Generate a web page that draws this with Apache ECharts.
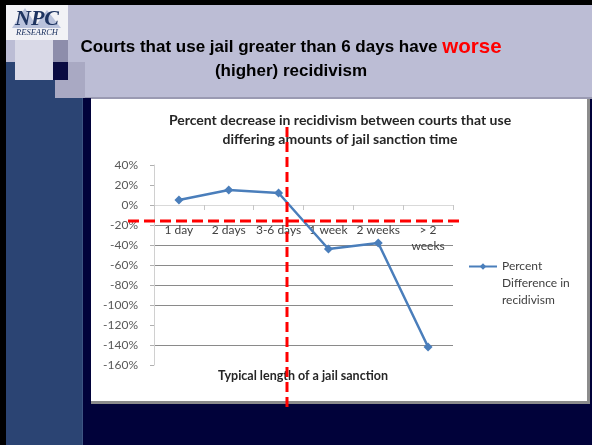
<!DOCTYPE html>
<html>
<head>
<meta charset="utf-8">
<script src="https://cdn.jsdelivr.net/npm/echarts@6/dist/echarts.min.js"></script>
<style>
html,body{margin:0;padding:0;background:#01023a;}
#c{width:592px;height:445px;}
</style>
</head>
<body>
<div id="c"></div>
<script>
// ---- data ----
const categories = ['1 day', '2 days', '3-6 days', '1 week', '2 weeks', '> 2 weeks'];
const percentDifference = [5, 15, 12, -44, -38, -142];
const seriesName = 'Percent Difference in recidivism';
const yMin = -160, yMax = 40, yStep = 20;
const slideTitleLine1 = 'Courts that use jail greater than 6 days have ';
const slideTitleEmph = 'worse';
const slideTitleLine2 = '(higher) recidivism';
const chartTitle = 'Percent decrease in recidivism between courts that use\ndiffering amounts of jail sanction time';
const xAxisTitle = 'Typical length of a jail sanction';
const logoMain = 'NPC';
const logoSub = 'RESEARCH';

// gridline colours in tick order (min -> max); faint ones as in the reference
const gridGray = '#8a8a8a', gridNone = 'rgba(0,0,0,0)';
const gridColors = [gridNone, gridGray, gridNone, gridGray, gridGray, gridGray, gridGray, gridGray, gridNone, gridNone, gridNone];

const gridTop = 165, gridBottom = 80, chartH = 445;
const plotH = chartH - gridTop - gridBottom;
// the category axis crosses at 0: shift it up from the grid bottom by 0's share of the range
const zeroOffset = -plotH * (0 - yMin) / (yMax - yMin);

const chart = echarts.init(document.getElementById('c'), null, {renderer: 'canvas'});

const bg = [
  {type: 'rect', z: -10, shape: {x: 0, y: 0, width: 592, height: 99}, style: {fill: '#bcbdd5'}},
  {type: 'rect', z: -10, shape: {x: 0, y: 97, width: 592, height: 2}, style: {fill: '#9a9ab2'}},
  {type: 'rect', z: -10, shape: {x: 0, y: 62, width: 83, height: 383}, style: {fill: '#2b4473'}},
  {type: 'rect', z: -10, shape: {x: 82, y: 98, width: 1, height: 347}, style: {fill: '#3d5583'}},
  {type: 'rect', z: -10, shape: {x: 83, y: 98, width: 8, height: 347}, style: {fill: '#01023a'}},
  {type: 'rect', z: -9, shape: {x: 6, y: 5, width: 62, height: 35}, style: {fill: '#f2f2f6'}},
  {type: 'rect', z: -9, shape: {x: 15, y: 40, width: 38, height: 40}, style: {fill: '#d9d9e7'}},
  {type: 'rect', z: -9, shape: {x: 53, y: 40, width: 15, height: 22}, style: {fill: '#8d8dab'}},
  {type: 'rect', z: -8, shape: {x: 55, y: 62, width: 30, height: 36}, style: {fill: '#a9a9c3'}},
  {type: 'rect', z: -7, shape: {x: 53, y: 62, width: 15, height: 18}, style: {fill: '#0a0b42'}},
  {type: 'rect', z: -6, shape: {x: 0, y: 0, width: 592, height: 5}, style: {fill: '#000000'}},
  {type: 'rect', z: -6, shape: {x: 0, y: 0, width: 6, height: 445}, style: {fill: '#000000'}},
  {type: 'rect', z: -5, shape: {x: 91, y: 99, width: 499, height: 305}, style: {fill: '#8c8c8c'}},
  {type: 'rect', z: -4, shape: {x: 91, y: 99, width: 496, height: 302}, style: {fill: '#ffffff'}},
  {type: 'polygon', z: -3, shape: {points: [[12, 28], [25, 8], [38, 28]]}, style: {fill: '#b9c2dc'}},
  {type: 'polygon', z: -3, shape: {points: [[34, 28], [47, 10], [61, 28]]}, style: {fill: '#b9c2dc'}},
  {type: 'text', z: -2, style: {text: logoMain, x: 37, y: 19, align: 'center', verticalAlign: 'middle',
    fontFamily: 'Liberation Serif', fontSize: 22, fontWeight: 'bold', fontStyle: 'italic', fill: '#1e3461'}},
  {type: 'text', z: -2, style: {text: logoSub, x: 37, y: 33, align: 'center', verticalAlign: 'middle',
    fontFamily: 'Liberation Serif', fontSize: 8.5, fontStyle: 'italic', fill: '#1e3461'}}
];

const texts = [
  {type: 'text', z: 5, style: {
    text: '{a|' + slideTitleLine1 + '}{b|' + slideTitleEmph + '}',
    x: 291, y: 47, align: 'center', verticalAlign: 'middle',
    rich: {
      a: {fontFamily: 'Liberation Sans', fontSize: 17, fontWeight: 'bold', fill: '#000000', color: '#000000'},
      b: {fontFamily: 'Liberation Sans', fontSize: 20.5, fontWeight: 'bold', fill: '#ff0000', color: '#ff0000'}
    }}},
  {type: 'text', z: 5, style: {text: slideTitleLine2, x: 291, y: 71, align: 'center', verticalAlign: 'middle',
    fontFamily: 'Liberation Sans', fontSize: 17, fontWeight: 'bold', fill: '#000000'}},
  {type: 'text', z: 5, style: {text: chartTitle, x: 340, y: 129.5, align: 'center', verticalAlign: 'middle',
    fontFamily: 'Lato', fontSize: 14, fontWeight: 'bold', fill: '#262626', lineHeight: 19}},
  {type: 'text', z: 5, style: {text: xAxisTitle, x: 303, y: 376, align: 'center', verticalAlign: 'middle',
    fontFamily: 'Lato', fontSize: 12.5, fontWeight: 'bold', fill: '#262626'}}
];

const redLines = [
  {type: 'line', z: 100, shape: {x1: 287, y1: 127, x2: 287, y2: 409},
    style: {stroke: '#ff0000', lineWidth: 3, lineDash: [10, 5]}},
  {type: 'line', z: 100, shape: {x1: 128, y1: 221, x2: 462, y2: 221},
    style: {stroke: '#ff0000', lineWidth: 3, lineDash: [11, 5]}}
];

const option = {
  animation: false,
  backgroundColor: '#01023a',
  grid: {left: 154, right: 139, top: gridTop, bottom: gridBottom, containLabel: false, outerBoundsMode: 'none'},
  xAxis: {
    type: 'category',
    data: categories,
    boundaryGap: true,
    offset: zeroOffset,
    axisLine: {onZero: false, lineStyle: {color: '#d9d9d9', width: 1}},
    axisTick: {show: true, length: 5, lineStyle: {color: '#c6c6c6'}},
    axisLabel: {
      color: '#404040', fontFamily: 'Lato', fontSize: 12, margin: 17, lineHeight: 16,
      interval: 0,
      formatter: v => v.replace('> 2 ', '> 2\n')
    },
    splitLine: {show: false}
  },
  yAxis: {
    type: 'value',
    min: yMin, max: yMax, interval: yStep,
    axisLine: {show: true, lineStyle: {color: '#d0d0d0'}},
    axisTick: {show: true, length: 4, lineStyle: {color: '#b0b0b0'}},
    axisLabel: {color: '#595959', fontFamily: 'Lato', fontSize: 12, margin: 16, formatter: '{value}%'},
    splitLine: {show: true, lineStyle: {color: gridColors, width: 1}}
  },
  legend: {
    show: true,
    left: 468, top: 224, padding: 0,
    itemWidth: 28, itemHeight: 8, itemGap: 0,
    // two leading empty lines keep the wrapped block's first line level with the icon
    formatter: name => '\n\n' + name,
    textStyle: {color: '#404040', fontFamily: 'Lato', fontSize: 12, lineHeight: 17,
      width: 80, overflow: 'break'},
    data: [seriesName]
  },
  series: [{
    type: 'line',
    name: seriesName,
    data: percentDifference,
    symbol: 'diamond',
    symbolSize: 9,
    showSymbol: true,
    lineStyle: {color: '#4a7ebb', width: 2.5},
    itemStyle: {color: '#4a7ebb'},
    z: 3
  }],
  graphic: {elements: bg.concat(texts, redLines)}
};

chart.setOption(option);
</script>
</body>
</html>
